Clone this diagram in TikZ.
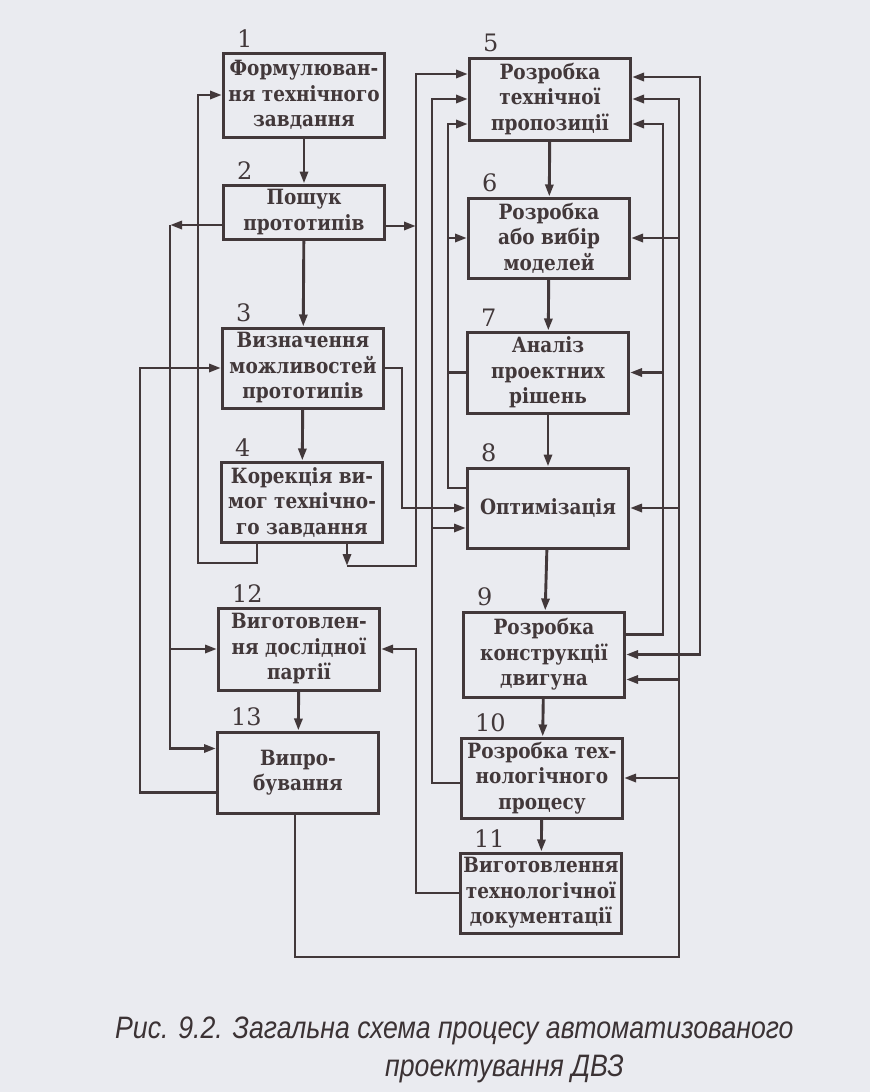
\documentclass[tikz,border=0pt]{standalone}
\usepackage{fontspec}
\setmainfont{DejaVu Serif}
\newfontfamily\boxfont{DejaVu Serif}[FakeStretch=0.88]
\newfontfamily\capfont{Liberation Sans}[FakeStretch=0.86]
\usetikzlibrary{arrows.meta}

\definecolor{paper}{RGB}{234,235,240}
\definecolor{ink}{RGB}{66,56,58}

\tikzset{
  stage/.style={draw=ink, line width=3pt, minimum width=161pt, inner sep=0pt,
    align=center, text=ink, font=\boxfont\bfseries\fontsize{21}{25.5}\selectfont},
  num/.style={anchor=south west, inner sep=0pt, text=ink,
    font=\fontsize{24}{24}\selectfont},
  link/.style={draw=ink, line width=2.9pt},
  flow/.style={link, -{Triangle[length=12pt,width=8pt]}},
  both/.style={link, {Triangle[length=12pt,width=8pt]}-{Triangle[length=12pt,width=8pt]}},
  caption/.style={inner sep=0pt, align=left, text=ink!90!black,
    font=\capfont\itshape\fontsize{31}{38}\selectfont}
}

\begin{document}
\begin{tikzpicture}[x=1pt, y=-1pt]
  % сторінка
  \fill[paper] (0,0) rectangle (870,1092);

  % ліва колонка
  \node[stage, minimum height=84pt] (b1) at (304,95) {Формулюван-\\ня технічного\\завдання};
  \node[stage, minimum height=54pt] (b2) at (304,212) {Пошук\\прототипів};
  \node[stage, minimum height=80pt] (b3) at (303,368) {Визначення\\можливостей\\прототипів};
  \node[stage, minimum height=80pt] (b4) at (302,502) {Корекція ви-\\мог технічно-\\го завдання};
  \node[stage, minimum height=82pt] (b12) at (299,649) {Виготовлен-\\ня дослідної\\партії};
  \node[stage, minimum height=81pt] (b13) at (298,772.5) {Випро-\\бування};

  % права колонка
  \node[stage, minimum height=82pt] (b5) at (550,99) {Розробка\\технічної\\пропозиції};
  \node[stage, minimum height=80pt] (b6) at (549,238) {Розробка\\або вибір\\моделей};
  \node[stage, minimum height=81pt] (b7) at (548,372.5) {Аналіз\\проектних\\рішень};
  \node[stage, minimum height=80pt] (b8) at (548,508) {Оптимізація};
  \node[stage, minimum height=85pt] (b9) at (544,654.5) {Розробка\\конструкції\\двигуна};
  \node[stage, minimum height=80pt] (b10) at (542,778) {Розробка тех-\\нологічного\\процесу};
  \node[stage, minimum height=80pt] (b11) at (541,893) {Виготовлення\\технологічної\\документації};

  % номери етапів
  \foreach \b/\n in {b1/1, b2/2, b3/3, b4/4, b5/5, b6/6, b7/7, b8/8, b9/9,
                     b10/10, b11/11, b12/12, b13/13}
    \node[num] (n\n) at ([shift={(15pt,4pt)}]\b.north west) {\n};

  % основний потік
  \draw[flow] (b1) -- (b2);
  \draw[flow] (b2) -- (b3);
  \draw[flow] (b3) -- (b4);
  \draw[flow] (b12) -- (b13);
  \draw[flow] (b5) -- (b6);
  \draw[flow] (b6) -- (b7);
  \draw[flow] (b7) -- (b8);
  \draw[flow] (b8) -- (b9);
  \draw[flow] (b9) -- (b10);
  \draw[flow] (b10) -- (b11);

  % шини
  \coordinate (xA) at (140,0);
  \coordinate (xB) at (170,0);
  \coordinate (xC) at (198,0);
  \coordinate (xF) at (402,0);
  \coordinate (xG) at (416,0);
  \coordinate (xH) at (432,0);
  \coordinate (xI) at (448,0);
  \coordinate (xJ) at (663,0);
  \coordinate (xK) at (679,0);
  \coordinate (xL) at (700,0);
  \coordinate (yC) at (0,563);
  \coordinate (yG) at (0,566);
  \coordinate (yBot) at (0,957);

  % точки входу і виходу
  \coordinate (b2w) at ([yshift=-13pt]b2.west);
  \coordinate (b2e) at ([yshift=-14pt]b2.east);
  \coordinate (b4a) at ([xshift=-45pt]b4.south);
  \coordinate (b4b) at ([xshift=45pt]b4.south);
  \coordinate (b5w1) at ([yshift=25pt]b5.west);
  \coordinate (b5w3) at ([yshift=-25pt]b5.west);
  \coordinate (b5e1) at ([yshift=22pt]b5.east);
  \coordinate (b5e3) at ([yshift=-25pt]b5.east);
  \coordinate (b8w1) at ([yshift=-20pt]b8.west);
  \coordinate (b8w2) at ([yshift=20pt]b8.west);
  \coordinate (b9e1) at ([yshift=20pt]b9.east);
  \coordinate (b9e3) at ([yshift=-25pt]b9.east);
  \coordinate (b10w) at ([yshift=-5pt]b10.west);
  \coordinate (b13w1) at ([yshift=24pt]b13.west);
  \coordinate (b13w2) at ([yshift=-20pt]b13.west);
  \coordinate (b13s) at ([xshift=-3pt]b13.south);

  % зв'язки зліва
  \draw[flow] (b2w) -- (b2w -| xB);
  \draw[flow] (b2w -| xB) |- (b13w1);
  \draw[flow] (b12.west -| xB) -- (b12.west);
  \draw[flow] (b4a) |- (yC -| xC) |- (b1.west);
  \draw[flow] (b13w2) -| (xA |- b3.west) -- (b3.west);

  % зв'язки між колонками
  \draw[flow] (b3.east) -| (xF |- b8.west) -- (b8.west);
  \draw[flow] (b2e) -- (b2e -| xG);
  \draw[flow] (b4b) -- (b4b |- yG);
  \draw[flow] (b4b |- yG) -| (xG |- b5w1) -- (b5w1);
  \draw[flow] (b10w) -| (xH |- b5.west) -- (b5.west);
  \draw[flow] (b8w1 -| xH) -- (b8w1);
  \draw[flow] (b8w2) -| (xI |- b5w3) -- (b5w3);
  \draw[link] (b7.west) -- (b7.west -| xI);
  \draw[flow] (b6.west -| xI) -- (b6.west);
  \draw[flow] (b11.west) -| (xG |- b12.east) -- (b12.east);

  % зв'язки справа
  \draw[flow] (b9e1) -| (xJ |- b5e3) -- (b5e3);
  \draw[flow] (b7.east -| xJ) -- (b7.east);
  \draw[flow] (b13s) |- (yBot -| xK) |- (b5.east);
  \foreach \p in {b6.east, b8.east, b9e3, b10.east}
    \draw[flow] (\p -| xK) -- (\p);
  \draw[both] (b5e1) -| (xL |- b9.east) -- (b9.east);

  % підпис
  \node[caption, anchor=west] (cap) at (115,1050) {Рис. 9.2. Загальна схема процесу автоматизованого\\\hspace*{270pt}проектування ДВЗ};
\end{tikzpicture}
\end{document}
